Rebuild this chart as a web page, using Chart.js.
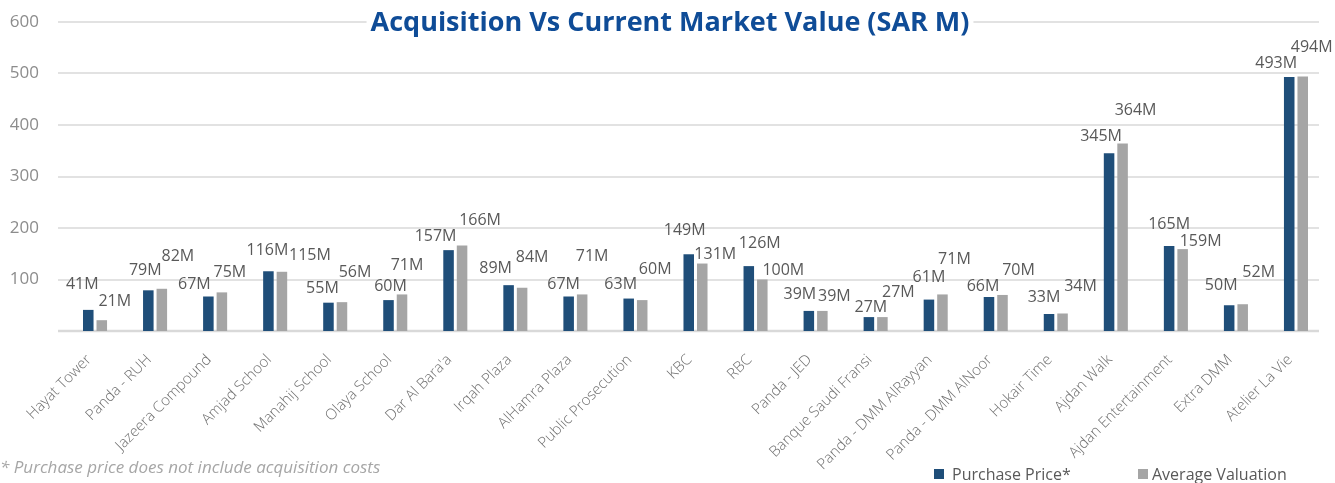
<!DOCTYPE html>
<html>
<head>
<meta charset="utf-8">
<title>Acquisition Vs Current Market Value</title>
<script src="https://cdn.jsdelivr.net/npm/chart.js@4/dist/chart.umd.min.js"></script>
<style>
    html, body { margin: 0; padding: 0; background: #ffffff; }
    #wrap { width: 1335px; height: 483px; position: relative; }
</style>
</head>
<body>
<div id="wrap"><canvas id="valueChart" width="1335" height="483"></canvas></div>
<script>
// Chart data
const categories = [
    'Hayat Tower', 'Panda - RUH', 'Jazeera Compound', 'Amjad School', 'Manahij School',
    'Olaya School', "Dar Al Bara'a", 'Irqah Plaza', 'AlHamra Plaza', 'Public Prosecution',
    'KBC', 'RBC', 'Panda - JED', 'Banque Saudi Fransi', 'Panda - DMM AlRayyan',
    'Panda - DMM AlNoor', 'Hokair Time', 'Ajdan Walk', 'Ajdan Entertainment', 'Extra DMM',
    'Atelier La Vie'
];
const purchasePrice = [41, 79, 67, 116, 55, 60, 157, 89, 67, 63, 149, 126, 39, 27, 61, 66, 33, 345, 165, 50, 493];
const averageValuation = [21, 82, 75, 115, 56, 71, 166, 84, 71, 60, 131, 100, 39, 27, 71, 70, 34, 364, 159, 52, 494];
const yTicks = [0, 100, 200, 300, 400, 500, 600];

const chartTitle = 'Acquisition Vs Current Market Value (SAR M)';
const footnote = '* Purchase price does not include acquisition costs';

// label nudges (px, relative to bar top) - labels were hand placed in the original
const purchaseLabelShift = [
    [-6, -25], [-3, -20], [-14, -12], [-1, -21], [-6, -14], [2, -14], [-13, -14],
    [-13, -17], [-5, -12], [-8, -14], [-4, -24], [11, -23], [-9, -16], [2, -10],
    [0, -22], [-6, -11], [-5, -17], [-8, -17], [0, -22], [-8, -20], [-13, -14]
];
const valuationLabelShift = [
    [13, -19], [16, -32], [8, -20], [28, -16], [13, -30], [5, -29], [18, -25],
    [10, -30], [10, -38], [13, -31], [13, -9], [21, -9], [12, -14], [16, -25],
    [12, -35], [16, -25], [18, -27], [13, -33], [18, -8], [16, -32], [9, -29]
];

const BLUE = '#1f4e79';
const GREY = '#a5a5a5';
const GRID = '#d9d9d9';
const TEXT = '#595959';

// grid lines are drawn a little to the left of the bars, like the original
const gridPlugin = {
    id: 'gridPlugin',
    beforeDatasetsDraw(chart) {
        const { ctx, chartArea, scales } = chart;
        ctx.save();
        ctx.strokeStyle = GRID;
        yTicks.forEach(function (v) {
            const y = Math.round(scales.y.getPixelForValue(v));
            ctx.lineWidth = v === 0 ? 2.5 : 1.5;
            ctx.beginPath();
            ctx.moveTo(chartArea.left - 7, y);
            ctx.lineTo(chartArea.right - 7, y);
            ctx.stroke();
        });
        ctx.restore();
    }
};

const labelPlugin = {
    id: 'labelPlugin',
    afterDatasetsDraw(chart) {
        const { ctx } = chart;
        ctx.save();
        ctx.font = '16px "Open Sans", sans-serif';
        ctx.fillStyle = TEXT;
        ctx.textAlign = 'center';
        ctx.textBaseline = 'middle';
        [purchaseLabelShift, valuationLabelShift].forEach(function (shift, di) {
            const meta = chart.getDatasetMeta(di);
            const values = chart.data.datasets[di].data;
            meta.data.forEach(function (bar, i) {
                ctx.fillText(values[i] + 'M', bar.x + shift[i][0], bar.y + shift[i][1]);
            });
        });
        ctx.restore();
    }
};

const decorPlugin = {
    id: 'decorPlugin',
    afterDraw(chart) {
        const { ctx } = chart;
        ctx.save();

        // title with white box over the top grid line
        ctx.font = 'bold 27px "Open Sans", sans-serif';
        const tw = ctx.measureText(chartTitle).width;
        const tx = 670;
        const ty = 22;
        ctx.fillStyle = '#ffffff';
        ctx.fillRect(tx - tw / 2 - 4, ty - 12, tw + 8, 24);
        ctx.fillStyle = '#0f4c97';
        ctx.textAlign = 'center';
        ctx.textBaseline = 'middle';
        ctx.fillText(chartTitle, tx, ty + 1);

        // footnote
        ctx.font = 'italic 17px "Open Sans", sans-serif';
        ctx.fillStyle = '#a6a6a6';
        ctx.textAlign = 'left';
        ctx.fillText(footnote, 0, 468);

        // legend
        ctx.font = '16px "Open Sans", sans-serif';
        ctx.fillStyle = BLUE;
        ctx.fillRect(934, 469, 10, 10);
        ctx.fillStyle = TEXT;
        ctx.fillText(chart.data.datasets[0].label, 952, 475);
        ctx.fillStyle = GREY;
        ctx.fillRect(1138, 469, 10, 10);
        ctx.fillStyle = TEXT;
        ctx.fillText(chart.data.datasets[1].label, 1152, 475);

        ctx.restore();
    }
};

new Chart(document.getElementById('valueChart'), {
    type: 'bar',
    data: {
        labels: categories,
        datasets: [
            {
                label: 'Purchase Price*',
                data: purchasePrice,
                backgroundColor: BLUE,
                categoryPercentage: 0.45,
                barPercentage: 0.78
            },
            {
                label: 'Average Valuation',
                data: averageValuation,
                backgroundColor: GREY,
                categoryPercentage: 0.45,
                barPercentage: 0.78
            }
        ]
    },
    options: {
        responsive: false,
        devicePixelRatio: 1,
        animation: false,
        layout: {
            padding: { top: 22, right: 9, left: 0, bottom: 0 }
        },
        plugins: {
            legend: { display: false },
            title: { display: false },
            tooltip: { enabled: false }
        },
        scales: {
            x: {
                grid: { display: false, drawTicks: false },
                border: { display: false },
                ticks: {
                    minRotation: 45,
                    maxRotation: 45,
                    autoSkip: false,
                    padding: 20,
                    labelOffset: -6,
                    color: '#6f6f6f',
                    font: { family: '"Open Sans", sans-serif', size: 15, weight: 300 }
                },
                afterFit: function (scale) {
                    scale.height = 152;
                }
            },
            y: {
                min: 0,
                max: 600,
                // ticks hidden, their length only pushes the labels left
                grid: { display: false, drawTicks: true, tickLength: 23 },
                border: { display: false },
                ticks: {
                    stepSize: 100,
                    padding: 3,
                    color: '#8c8c8c',
                    font: { family: '"Open Sans", sans-serif', size: 17 },
                    callback: function (v) {
                        return v === 0 ? '' : v;
                    }
                },
                afterFit: function (scale) {
                    scale.width = 65;
                }
            }
        }
    },
    plugins: [gridPlugin, labelPlugin, decorPlugin]
});
</script>
</body>
</html>
